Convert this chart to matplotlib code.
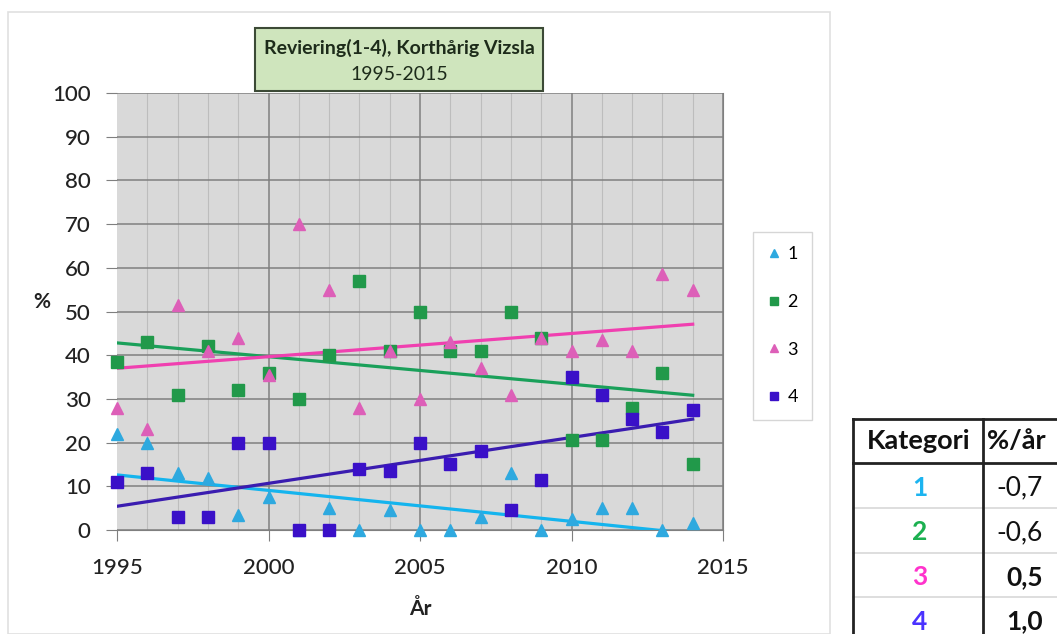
"""Revieringsbetyg (1-4) for korthårig vizsla 1995-2015, med trendlinjer per kategori."""
import matplotlib
matplotlib.use("Agg")
import matplotlib.pyplot as plt
from matplotlib.patches import Rectangle
from matplotlib.lines import Line2D
import numpy as np

plt.rcParams["font.family"] = ["Lato", "DejaVu Sans"]

# --- data (avlast ur diagrammet) ---
years = list(range(1995, 2015))
kat1 = [22, 20, 13, 12, 3.5, 7.5, 0, 5, 0, 4.5, 0, 0, 3, 13, 0, 2.5, 5, 5, 0, 1.5]
kat2 = [38.5, 43, 31, 42, 32, 36, 30, 40, 57, 41, 50, 41, 41, 50, 44, 20.5, 20.5, 28, 36, 15]
kat3 = [28, 23, 51.5, 41, 44, 35.5, 70, 55, 28, 41, 30, 43, 37, 31, 44, 41, 43.5, 41, 58.5, 55]
kat4 = [11, 13, 3, 3, 20, 20, 0, 0, 14, 13.5, 20, 15, 18, 4.5, 11.5, 35, 31, 25.5, 22.5, 27.5]

series_labels = ["1", "2", "3", "4"]
series_values = [kat1, kat2, kat3, kat4]
markers = ["^", "s", "^", "s"]
marker_colors = ["#2ea9df", "#21994a", "#dd5fb8", "#3a10c8"]
line_colors = ["#14b4ee", "#1aa05a", "#f040b0", "#3a1cb0"]

table_header = ["Kategori", "%/år"]
table_kat = ["1", "2", "3", "4"]
table_rate = ["-0,7", "-0,6", "0,5", "1,0"]
table_kat_colors = ["#1cb4f0", "#1cb050", "#ff33cc", "#4a32ff"]
table_bold = [False, False, True, True]

W, H = 1057, 634
fig = plt.figure(figsize=(W / 100, H / 100), dpi=100)


def fx(px):
    return px / W


def fy(py):
    return 1 - py / H


# chart area frame
fig.patches.append(Rectangle((fx(8), fy(634)), fx(822), fy(12) - fy(634),
                             transform=fig.transFigure, fill=False,
                             edgecolor="#e0e0e0", linewidth=1.2))

ax = fig.add_axes([fx(117), fy(530), fx(606), fy(93) - fy(530)])
ax.set_facecolor("#d9d9d9")
ax.set_xlim(1995, 2015)
ax.set_ylim(0, 100)
ax.set_xticks(range(1995, 2016, 5))
ax.set_xticks(range(1995, 2016), minor=True)
ax.set_yticks(range(0, 101, 10))
ax.grid(which="major", axis="both", color="#7f7f7f", linewidth=1.1)
ax.grid(which="minor", axis="x", color="#bdbdbd", linewidth=0.8)
ax.set_axisbelow(True)
ax.get_xgridlines()[0].set_visible(False)
for s in ["left", "top"]:
    ax.spines[s].set_visible(False)
ax.spines["right"].set_color("#7f7f7f")
ax.spines["bottom"].set_color("#7f7f7f")
ax.tick_params(axis="both", which="major", direction="out", length=8,
               color="#7f7f7f", labelsize=16, labelcolor="#222222")
ax.tick_params(axis="x", which="minor", length=0)
ax.tick_params(axis="x", pad=12)
ax.tick_params(axis="y", pad=11)
for t in ax.get_xticklabels() + ax.get_yticklabels():
    t.set_fontweight("medium")

x = np.array(years, dtype=float)
handles = []
for lab, vals, mk, mc, lc in zip(series_labels, series_values, markers,
                                 marker_colors, line_colors):
    v = np.array(vals, dtype=float)
    m, b = np.polyfit(x, v, 1)
    ax.plot(x, m * x + b, color=lc, linewidth=2.3, zorder=2, clip_on=True)
    ms = 9 if mk == "^" else 8
    ax.plot(x, v, linestyle="none", marker=mk, markersize=ms, color=mc,
            markeredgecolor=mc, zorder=3, clip_on=False)
    handles.append(Line2D([], [], linestyle="none", marker=mk, markersize=6,
                          color=mc, label=lab))

ax.set_ylabel("%", rotation=0, fontsize=15, fontweight="bold", color="#222222")
ax.yaxis.set_label_coords(-0.124, 0.5)
ax.set_xlabel("År", fontsize=15, fontweight="bold", color="#222222")
ax.xaxis.set_label_coords(0.5, -0.158)

# title box
fig.patches.append(Rectangle((fx(255), fy(91)), fx(288), fy(28) - fy(91),
                             transform=fig.transFigure, facecolor="#cfe5bd",
                             edgecolor="#3c4a36", linewidth=1.5, zorder=5))
fig.text(fx(399), fy(48), "Reviering(1-4), Korthårig Vizsla", ha="center",
         va="center", fontsize=14, fontweight="bold", color="#1d2b1a", zorder=6)
fig.text(fx(399), fy(74), "1995-2015", ha="center", va="center",
         fontsize=14, color="#1d2b1a", zorder=6)

# legend
leg = fig.legend(handles=handles, loc="upper left",
                 bbox_to_anchor=(fx(753), fy(232)), borderaxespad=0,
                 fontsize=13, labelspacing=1.75, handlelength=0.7,
                 handletextpad=0.4, borderpad=0.8, fancybox=False,
                 frameon=True)
leg.get_frame().set_edgecolor("#cccccc")
leg.get_frame().set_linewidth(1.0)

# table (Kategori, %/år)
tx0, tx1, tx2 = 853, 983, 1070
row_y = [419, 463, 508, 553, 597, 642]
lw = 2.0
for yy, col, w in [(row_y[0], "#222222", lw), (row_y[1], "#222222", lw)] + \
        [(yy, "#d8d8d8", 1.2) for yy in row_y[2:5]]:
    fig.add_artist(Line2D([fx(tx0), fx(tx2)], [fy(yy), fy(yy)],
                          transform=fig.transFigure, color=col, linewidth=w))
for xx in [tx0, tx1]:
    fig.add_artist(Line2D([fx(xx), fx(xx)], [fy(row_y[0]), fy(H)],
                          transform=fig.transFigure, color="#222222", linewidth=lw))
fig.text(fx((tx0 + tx1) / 2 + 1), fy(441), table_header[0], ha="center", va="center",
         fontsize=19.5, fontweight="bold", color="#111111")
fig.text(fx(987), fy(441), table_header[1], ha="left", va="center",
         fontsize=19.5, fontweight="bold", color="#111111")
for i, (k, r, kc, bd) in enumerate(zip(table_kat, table_rate, table_kat_colors, table_bold)):
    yc = (row_y[i + 1] + row_y[i + 2]) / 2 + 2
    fig.text(fx(920), fy(yc), k, ha="center", va="center", fontsize=19,
             fontweight="bold", color=kc)
    fig.text(fx(1043), fy(yc), r, ha="right", va="center", fontsize=19,
             fontweight="bold" if bd else "normal", color="#111111")

fig.savefig("out.png", dpi=100)
